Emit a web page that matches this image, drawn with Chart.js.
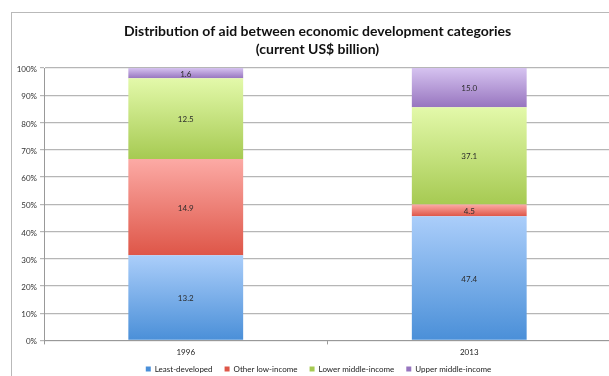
<!DOCTYPE html>
<html>
<head>
<meta charset="utf-8">
<script src="https://cdn.jsdelivr.net/npm/chart.js@4.4.1/dist/chart.umd.min.js"></script>
<style>
  html, body { margin: 0; padding: 0; background: #fff; overflow: hidden; }
  #wrap { position: relative; width: 609px; height: 376px; overflow: hidden; }
  #frame { position: absolute; left: 11px; top: 12px; width: 700px; height: 400px; border: 1px solid #b9b9b9; }
  #box { position: absolute; left: 0; top: 0; width: 640px; height: 390px; }
</style>
</head>
<body>
<div id="wrap">
  <div id="frame"></div>
  <div id="box"><canvas id="aidChart"></canvas></div>
</div>
<script>
const years = ['1996', '2013'];
const seriesNames = ['Least-developed', 'Other low-income', 'Lower middle-income', 'Upper middle-income'];
const leastDeveloped = [13.2, 47.4];
const otherLowIncome = [14.9, 4.5];
const lowerMiddleIncome = [12.5, 37.1];
const upperMiddleIncome = [1.6, 15.0];
const yTicks = [0, 10, 20, 30, 40, 50, 60, 70, 80, 90, 100];

const series = [leastDeveloped, otherLowIncome, lowerMiddleIncome, upperMiddleIncome];
// gradient stops per series: [top, bottom, legend swatch]
const shades = [
    ['#abcefa', '#4a8fd8', '#5c9de2'],
    ['#fcaaa5', '#de5648', '#e9716a'],
    ['#e3f9aa', '#a6ca52', '#c3e285'],
    ['#d6c3f0', '#9775bf', '#a98bd2']
];

// each year's bar is shown as a share of that year's total
const totals = years.map((_, i) => series.reduce((s, arr) => s + arr[i], 0));
const shares = series.map(arr => arr.map((v, i) => v / totals[i] * 100));

function segmentFill(idx) {
    return function (ctx) {
        const chart = ctx.chart;
        if (ctx.type !== 'data' || !chart.chartArea) return shades[idx][2];
        const y = chart.scales.y;
        let start = 0;
        for (let k = 0; k < idx; k++) start += shares[k][ctx.dataIndex];
        const end = start + shares[idx][ctx.dataIndex];
        const top = y.getPixelForValue(end);
        const bottom = y.getPixelForValue(start);
        const g = chart.ctx.createLinearGradient(0, top, 0, bottom);
        g.addColorStop(0, shades[idx][0]);
        g.addColorStop(1, shades[idx][1]);
        return g;
    };
}

// writes the raw value in the middle of every segment
const valueLabels = {
    id: 'valueLabels',
    afterDatasetsDraw(chart) {
        const c = chart.ctx;
        c.save();
        c.font = '8px Lato, "DejaVu Sans", sans-serif';
        c.fillStyle = '#2b2b2b';
        c.textAlign = 'center';
        c.textBaseline = 'middle';
        chart.data.datasets.forEach((ds, di) => {
            chart.getDatasetMeta(di).data.forEach((bar, i) => {
                const mid = (bar.y + bar.base) / 2;
                c.fillText(series[di][i].toFixed(1), bar.x, mid + 1);
            });
        });
        c.restore();
    }
};

// title and legend sit a little right of the canvas middle, legend a bit higher
const nudgeBoxes = {
    id: 'nudgeBoxes',
    afterLayout(chart) {
        const t = chart.titleBlock, l = chart.legend;
        if (t) { t.left += 12; t.right += 12; }
        if (l) { l.left += 13; l.right += 13; l.top -= 7; l.bottom -= 7; }
    }
};

const ctx = document.getElementById('aidChart').getContext('2d');
const aidChart = new Chart(ctx, {
    type: 'bar',
    data: {
        labels: years,
        datasets: shares.map((arr, i) => ({
            label: seriesNames[i],
            data: arr,
            backgroundColor: segmentFill(i),
            borderWidth: 0,
            barPercentage: 0.405,
            categoryPercentage: 1
        }))
    },
    options: {
        responsive: true,
        maintainAspectRatio: false,
        animation: false,
        layout: { padding: { left: 0, right: 29, top: 23, bottom: 0 } },
        plugins: {
            title: {
                display: true,
                text: ['Distribution of aid between economic development categories', '(current US$ billion)'],
                color: '#111',
                font: { family: 'Lato', size: 14, weight: 'bold', lineHeight: 1.25 },
                padding: { top: 0, bottom: 10 }
            },
            legend: {
                position: 'bottom',
                labels: {
                    boxWidth: 5,
                    boxHeight: 5,
                    padding: 12,
                    color: '#222',
                    font: { family: 'Lato', size: 8 }
                }
            },
            tooltip: { enabled: false }
        },
        scales: {
            x: {
                stacked: true,
                grid: { drawOnChartArea: false, drawTicks: true, tickLength: 4, color: '#999' },
                border: { color: '#999' },
                ticks: { color: '#222', font: { family: 'Lato', size: 8 }, padding: 3 }
            },
            y: {
                stacked: true,
                min: 0,
                max: 100,
                afterFit(scale) { scale.width = 44; },
                afterBuildTicks(scale) { scale.ticks = yTicks.map(v => ({ value: v })); },
                grid: { color: '#b6b6b6', lineWidth: 1.2, tickLength: 4 },
                border: { color: '#999' },
                ticks: {
                    color: '#333',
                    font: { family: 'Lato', size: 8 },
                    padding: 3,
                    labelOffset: 1.5,
                    callback: v => v + '%'
                }
            }
        }
    },
    plugins: [valueLabels, nudgeBoxes]
});
</script>
</body>
</html>
